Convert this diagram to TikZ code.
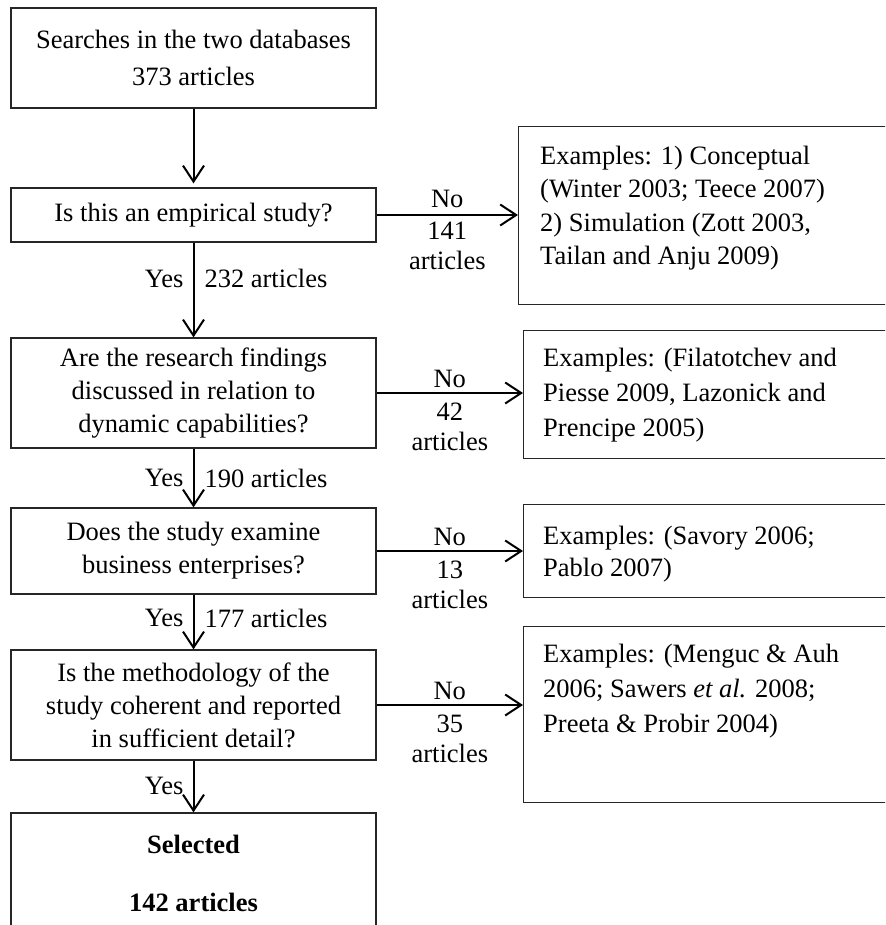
\documentclass[tikz,border=0pt]{standalone}
\usepackage{fontspec}
\setmainfont{Liberation Serif}
\usetikzlibrary{arrows.meta}
\begin{document}
\begin{tikzpicture}[x=1pt,y=-1pt,
  mainbox/.style={draw=black!85, line width=1.2pt, minimum width=365pt, align=center, inner sep=0pt, font=\fontsize{26.5}{33}\selectfont},
  rbox/.style={draw=black!85, line width=1.2pt, anchor=north west, minimum width=400pt, inner sep=0pt},
  rtext/.style={anchor=north west, align=left, inner sep=0pt},
  arr/.style={line width=2pt, -{Straight Barb[length=16pt, width=21pt]}},
  yeslbl/.style={left, inner sep=0pt, xshift=-9pt, font=\fontsize{26.5}{30}\selectfont},
  cntlbl/.style={right, inner sep=0pt, xshift=10pt, font=\fontsize{26.5}{30}\selectfont},
  nolbl/.style={above, inner sep=4.3pt, font=\fontsize{26.5}{30}\selectfont},
  nocnt/.style={below, inner sep=9pt, align=center, font=\fontsize{26.5}{30}\selectfont}
]
\useasboundingbox (0,0) rectangle (885,925);
\clip (0,0) rectangle (885,925);

% main column
\node[mainbox, minimum height=100pt] (b1) at (193.5,58) {Searches in the two databases\\[4pt]373 articles};
\node[mainbox, minimum height=54pt] (b2) at (193.5,215) {Is this an empirical study?};
\node[mainbox, minimum height=110pt] (b3) at (193.5,393) {Are the research findings\\discussed in relation to\\dynamic capabilities?};
\node[mainbox, minimum height=86pt] (b4) at (193.5,551) {Does the study examine\\business enterprises?};
\node[mainbox, minimum height=110pt] (b5) at (193.5,705) {Is the methodology of the\\study coherent and reported\\in sufficient detail?};
\node[mainbox, minimum height=120pt] (b6) at (193.5,873) {\textbf{Selected}\\[25pt]\textbf{142 articles}};

% right column boxes
\node[rbox, minimum height=178pt] (r1) at (518,126) {};
\node[rbox, minimum height=128pt] (r2) at (523,330) {};
\node[rbox, minimum height=93pt] (r3) at (523,504) {};
\node[rbox, minimum height=176pt] (r4) at (523,626) {};

\node[rtext, font=\fontsize{26.5}{33.5}\selectfont] (r1t) at (540,145.7) {Examples: 1) Conceptual\\(Winter 2003; Teece 2007)\\2) Simulation (Zott 2003,\\Tailan and Anju 2009)};
\node[rtext, font=\fontsize{26.5}{35}\selectfont] (r2t) at (543,347.7) {Examples: (Filatotchev and\\Piesse 2009, Lazonick and\\Prencipe 2005)};
\node[rtext, font=\fontsize{26.5}{32}\selectfont] (r3t) at (543,525.7) {Examples: (Savory 2006;\\Pablo 2007)};
\node[rtext, font=\fontsize{26.5}{35}\selectfont] (r4t) at (543,643.7) {Examples: (Menguc \& Auh\\2006; Sawers \textit{et al.} 2008;\\Preeta \& Probir 2004)};

% vertical arrows
\draw[arr, shorten >=4pt] (b1) -- (b2);
\draw[arr] (b2) -- node[pos=0.38, yeslbl] {Yes} node[pos=0.38, cntlbl] {232 articles} (b3);
\draw[arr] (b3) -- node[pos=0.5, yeslbl] {Yes} node[pos=0.5, cntlbl] {190 articles} (b4);
\draw[arr] (b4) -- node[pos=0.43, yeslbl] {Yes} node[pos=0.43, cntlbl] {177 articles} (b5);
\draw[arr] (b5) -- node[pos=0.48, yeslbl] {Yes} (b6);

% horizontal arrows
\draw[arr] (b2.east) -- node[nolbl, yshift=2pt] {No} node[nocnt, yshift=3pt] {141\\articles} (b2.east -| r1.west);
\draw[arr] (b3.east) -- node[nolbl] {No} node[nocnt] {42\\articles} (b3.east -| r2.west);
\draw[arr] (b4.east) -- node[nolbl] {No} node[nocnt] {13\\articles} (b4.east -| r3.west);
\draw[arr] (b5.east) -- node[nolbl] {No} node[nocnt] {35\\articles} (b5.east -| r4.west);
\end{tikzpicture}
\end{document}
